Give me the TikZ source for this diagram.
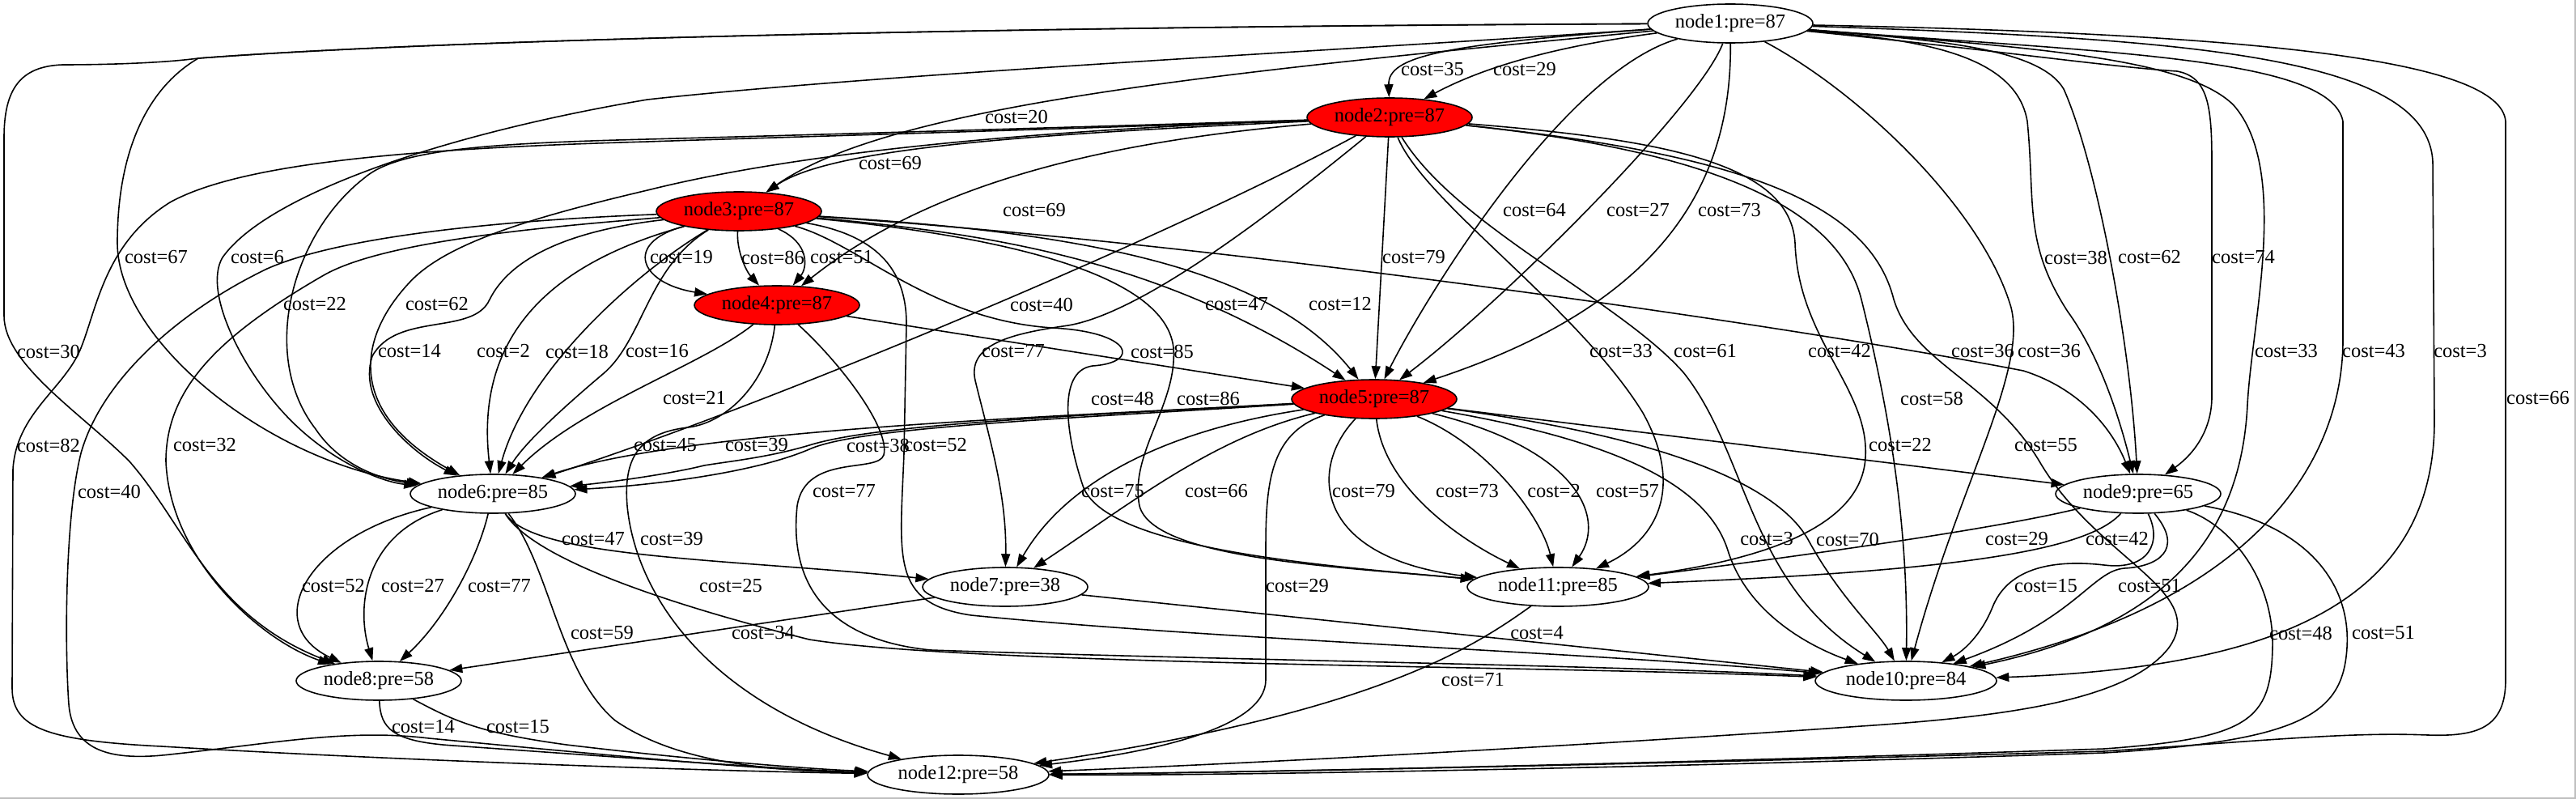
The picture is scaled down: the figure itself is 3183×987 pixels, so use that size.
\documentclass[tikz,border=0pt]{standalone}
\usepackage{fontspec}
\setmainfont{Liberation Serif}
\usetikzlibrary{arrows.meta,shapes.geometric}
\begin{document}
\begin{tikzpicture}[x=1pt,y=-1pt,
  nd/.style={ellipse,draw,line width=1.6pt,minimum width=204pt,minimum height=48pt,inner sep=0pt,font=\fontsize{24.5}{28}\selectfont},
  wide/.style={minimum width=224pt},
  hot/.style={fill=red},
  e/.style={draw,line width=1.6pt,-{Triangle[length=16pt,width=11pt]}},
  lab/.style={font=\fontsize{24.5}{28}\selectfont,inner sep=0pt}]
\useasboundingbox (0,0) rectangle (3183,987);
\draw[gray!50,line width=1.5pt] (0,986) -- (3182,986) -- (3182,0);

\node[nd] (n1) at (2138,29) {node1:pre=87};
\node[nd,hot] (n2) at (1717,145) {node2:pre=87};
\node[nd,hot] (n3) at (913,261) {node3:pre=87};
\node[nd,hot] (n4) at (960,377) {node4:pre=87};
\node[nd,hot] (n5) at (1698,493) {node5:pre=87};
\node[nd] (n6) at (609,610) {node6:pre=85};
\node[nd] (n7) at (1242,725) {node7:pre=38};
\node[nd] (n8) at (468,841) {node8:pre=58};
\node[nd] (n9) at (2642,610) {node9:pre=65};
\node[nd,wide] (n10) at (2355,841) {node10:pre=84};
\node[nd,wide] (n11) at (1925,725) {node11:pre=85};
\node[nd,wide] (n12) at (1184,957) {node12:pre=58};

% node1
\draw[e] (n1) .. controls (1780,55) and (1715,70) .. (n2) node[lab] at (1770,86) {cost=35};
\draw[e] (n1) .. controls (1900,60) and (1820,90) .. (n2) node[lab] at (1884,86) {cost=29};
\draw[e] (n1) .. controls (1500,90) and (1100,130) .. (n3) node[lab] at (1256,144) {cost=20};
\draw[e] (n1) .. controls (1400,32) and (600,45) .. (245,72) .. controls (180,110) and (145,190) .. (145,300) .. controls (145,420) and (330,570) .. (n6) node[lab] at (193,318) {cost=67};
\draw[e] (n1) .. controls (1400,32) and (600,45) .. (245,72) .. controls (200,78) and (130,80) .. (77,80) .. controls (25,82) and (5,110) .. (5,170) -- (5,390) .. controls (5,450) and (100,510) .. (160,570) .. controls (230,650) and (260,760) .. (n8) node[lab] at (60,434) {cost=30};
\draw[e] (n1) .. controls (1700,60) and (1100,90) .. (800,123) .. controls (550,165) and (330,240) .. (275,318) .. controls (250,360) and (300,460) .. (360,520) .. controls (410,570) and (470,595) .. (n6) node[lab] at (318,318) {cost=6};
\draw[e] (n1) .. controls (1930,90) and (1760,370) .. (n5) node[lab] at (1896,260) {cost=64};
\draw[e] (n1) .. controls (2100,130) and (1860,370) .. (n5) node[lab] at (2024,260) {cost=27};
\draw[e] (n1) .. controls (2140,240) and (2040,380) .. (n5) node[lab] at (2137,260) {cost=73};
\draw[e] (n1) .. controls (2350,48) and (2490,60) .. (2505,150) .. controls (2515,250) and (2500,300) .. (2555,385) .. controls (2595,440) and (2620,520) .. (n9) node[lab] at (2565,318) {cost=38};
\draw[e] (n1) .. controls (2400,50) and (2520,60) .. (2550,110) .. controls (2590,200) and (2632,420) .. (n9) node[lab] at (2656,318) {cost=62};
\draw[e] (n1) .. controls (2450,60) and (2600,82) .. (2690,88) .. controls (2728,95) and (2733,130) .. (2733,200) -- (2733,490) .. controls (2733,530) and (2712,560) .. (n9) node[lab] at (2772,318) {cost=74};
\draw[e] (n1) .. controls (2300,115) and (2450,260) .. (2485,380) .. controls (2505,460) and (2420,600) .. (n10) node[lab] at (2532,434) {cost=36};
\draw[e] (n1) .. controls (2500,58) and (2700,70) .. (2760,130) .. controls (2830,210) and (2782,400) .. (2777,500) .. controls (2770,640) and (2700,770) .. (n10) node[lab] at (2825,434) {cost=33};
\draw[e] (n1) .. controls (2600,65) and (2880,70) .. (2895,150) -- (2895,420) .. controls (2895,560) and (2800,740) .. (n10) node[lab] at (2933,434) {cost=43};
\draw[e] (n1) .. controls (2700,48) and (3000,68) .. (3006,200) -- (3008,520) .. controls (3008,750) and (2800,825) .. (n10) node[lab] at (3040,434) {cost=3};
\draw[e] (n1) .. controls (2800,42) and (3090,75) .. (3096,150) -- (3096,840) .. controls (3096,900) and (3060,910) .. (3000,908) .. controls (2900,904) and (2800,915) .. (2600,928) .. controls (2000,945) and (1500,955) .. (n12) node[lab] at (3136,492) {cost=66};

% node2
\draw[e] (n2) .. controls (1300,165) and (1030,180) .. (n3) node[lab] at (1100,202) {cost=69};
\draw[e] (n2) .. controls (1300,180) and (1120,250) .. (n4) node[lab] at (1278,260) {cost=69};
\draw[e] (n2) .. controls (1300,158) and (950,168) .. (800,172) .. controls (600,177) and (490,185) .. (450,220) .. controls (360,290) and (320,440) .. (390,530) .. controls (420,575) and (470,592) .. (n6) node[lab] at (389,376) {cost=22};
\draw[e] (n2) .. controls (1300,160) and (1000,185) .. (800,235) .. controls (660,268) and (550,300) .. (505,350) .. controls (440,420) and (430,510) .. (n6) node[lab] at (540,376) {cost=62};
\draw[e] (n2) .. controls (1450,290) and (950,500) .. (n6) node[lab] at (1287,376) {cost=40};
\draw[e] (n2) .. controls (1300,160) and (950,170) .. (800,175) .. controls (520,183) and (300,200) .. (210,250) .. controls (130,300) and (120,380) .. (100,430) .. controls (80,480) and (20,510) .. (16,580) -- (15,850) .. controls (15,900) and (60,915) .. (200,922) .. controls (500,940) and (900,953) .. (n12) node[lab] at (60,550) {cost=82};
\draw[e] (n2) -- (n5) node[lab] at (1747,318) {cost=79};
\draw[e] (n2) .. controls (1600,240) and (1420,385) .. (1320,402) .. controls (1250,412) and (1195,425) .. (1205,470) .. controls (1222,540) and (1244,610) .. (n7) node[lab] at (1252,434) {cost=77};
\draw[e] (n2) .. controls (1760,250) and (1950,380) .. (2030,510) .. controls (2080,600) and (2050,665) .. (n11) node[lab] at (2003,434) {cost=33};
\draw[e] (n2) .. controls (1800,280) and (2000,370) .. (2080,460) .. controls (2160,560) and (2160,720) .. (n10) node[lab] at (2107,434) {cost=61};
\draw[e] (n2) .. controls (2050,172) and (2212,200) .. (2218,300) .. controls (2222,420) and (2310,480) .. (2305,565) .. controls (2300,660) and (2150,695) .. (n11) node[lab] at (2273,434) {cost=42};
\draw[e] (n2) .. controls (2100,185) and (2270,250) .. (2300,370) .. controls (2335,510) and (2358,650) .. (n10) node[lab] at (2387,492) {cost=58};
\draw[e] (n2) .. controls (2150,190) and (2310,250) .. (2340,370) .. controls (2365,450) and (2460,470) .. (2520,570) .. controls (2590,690) and (2730,730) .. (2680,800) .. controls (2630,865) and (2480,885) .. (2300,897) .. controls (1900,925) and (1500,945) .. (n12) node[lab] at (2528,550) {cost=55};

% node3
\draw[e] (n3) .. controls (770,300) and (790,350) .. (n4) node[lab] at (842,318) {cost=19};
\draw[e] (n3) .. controls (910,310) and (922,335) .. (n4) node[lab] at (955,318) {cost=86};
\draw[e] (n3) .. controls (1000,300) and (998,330) .. (n4) node[lab] at (1040,318) {cost=51};
\draw[e] (n3) .. controls (700,285) and (630,320) .. (605,370) .. controls (585,415) and (490,385) .. (460,440) .. controls (440,500) and (510,560) .. (n6) node[lab] at (506,434) {cost=14};
\draw[e] (n3) .. controls (700,320) and (585,400) .. (n6) node[lab] at (622,434) {cost=2};
\draw[e] (n3) .. controls (780,340) and (650,460) .. (n6) node[lab] at (713,434) {cost=18};
\draw[e] (n3) .. controls (800,330) and (795,420) .. (745,462) .. controls (700,500) and (650,545) .. (n6) node[lab] at (812,434) {cost=16};
\draw[e] (n3) .. controls (650,282) and (470,300) .. (400,340) .. controls (270,415) and (205,480) .. (205,570) .. controls (210,690) and (320,790) .. (n8) node[lab] at (253,550) {cost=32};
\draw[e] (n3) .. controls (620,272) and (420,292) .. (330,332) .. controls (220,385) and (125,470) .. (100,560) .. controls (80,640) and (80,800) .. (85,870) .. controls (90,930) and (140,940) .. (210,932) .. controls (340,918) and (430,900) .. (530,912) .. controls (720,930) and (950,952) .. (n12) node[lab] at (135,607) {cost=40};
\draw[e] (n3) .. controls (1250,290) and (1450,330) .. (n5) node[lab] at (1528,376) {cost=47};
\draw[e] (n3) .. controls (1300,285) and (1560,320) .. (n5) node[lab] at (1656,376) {cost=12};
\draw[e] (n3) .. controls (1500,300) and (2200,400) .. (2500,458) .. controls (2570,480) and (2610,530) .. (n9) node[lab] at (2450,434) {cost=36};
\draw[e] (n3) .. controls (1200,288) and (1440,330) .. (1450,430) .. controls (1455,500) and (1395,560) .. (1408,625) .. controls (1425,690) and (1650,700) .. (n11) node[lab] at (1493,492) {cost=86};
\draw[e] (n3) .. controls (1060,300) and (1150,395) .. (1300,405) .. controls (1400,410) and (1410,448) .. (1350,452) .. controls (1305,458) and (1318,540) .. (1338,600) .. controls (1365,680) and (1650,700) .. (n11) node[lab] at (1387,492) {cost=48};
\draw[e] (n3) .. controls (1080,290) and (1120,330) .. (1120,400) -- (1117,560) .. controls (1112,690) and (1100,745) .. (1200,760) .. controls (1500,790) and (1950,805) .. (n10) node[lab] at (1156,550) {cost=52};

% node4
\draw[e] (n4) .. controls (870,450) and (720,500) .. (n6) node[lab] at (858,492) {cost=21};
\draw[e] (n4) -- (n5) node[lab] at (1436,434) {cost=85};
\draw[e] (n4) .. controls (1040,450) and (1100,530) .. (1092,562) .. controls (1085,585) and (995,560) .. (985,625) .. controls (975,720) and (1020,790) .. (1150,803) .. controls (1500,815) and (2000,822) .. (n10) node[lab] at (1043,607) {cost=77};
\draw[e] (n4) .. controls (950,470) and (900,522) .. (850,528) .. controls (790,535) and (770,565) .. (775,625) .. controls (785,730) and (870,870) .. (n12) node[lab] at (830,666) {cost=39};

% node5
\draw[e] (n5) .. controls (1300,515) and (850,530) .. (n6) node[lab] at (822,550) {cost=45};
\draw[e] (n5) .. controls (1300,515) and (1080,525) .. (1000,550) .. controls (950,565) and (900,570) .. (870,575) .. controls (830,585) and (760,595) .. (n6) node[lab] at (935,550) {cost=39};
\draw[e] (n5) .. controls (1300,518) and (1060,528) .. (1000,555) .. controls (930,585) and (800,600) .. (n6) node[lab] at (1085,550) {cost=38};
\draw[e] (n5) .. controls (1450,530) and (1320,590) .. (n7) node[lab] at (1375,607) {cost=75};
\draw[e] (n5) .. controls (1500,540) and (1400,620) .. (n7) node[lab] at (1503,607) {cost=66};
\draw[e] (n5) .. controls (1615,580) and (1625,690) .. (n11) node[lab] at (1685,607) {cost=79};
\draw[e] (n5) .. controls (1710,600) and (1800,665) .. (n11) node[lab] at (1813,607) {cost=73};
\draw[e] (n5) .. controls (1840,550) and (1905,640) .. (n11) node[lab] at (1920,607) {cost=2};
\draw[e] (n5) .. controls (1950,555) and (1985,640) .. (n11) node[lab] at (2011,607) {cost=57};
\draw[e] (n5) .. controls (2000,545) and (2110,600) .. (2135,680) .. controls (2160,760) and (2240,800) .. (n10) node[lab] at (2183,666) {cost=3};
\draw[e] (n5) .. controls (2060,540) and (2200,600) .. (2236,670) .. controls (2275,740) and (2320,780) .. (n10) node[lab] at (2283,666) {cost=70};
\draw[e] (n5) -- (n9) node[lab] at (2348,550) {cost=22};
\draw[e] (n5) .. controls (1568,535) and (1564,600) .. (1564,680) -- (1564,840) .. controls (1564,900) and (1420,930) .. (n12) node[lab] at (1603,724) {cost=29};

% node6
\draw[e] (n6) .. controls (660,690) and (900,690) .. (n7) node[lab] at (733,666) {cost=47};
\draw[e] (n6) .. controls (665,700) and (880,760) .. (1000,790) .. controls (1200,822) and (1900,822) .. (n10) node[lab] at (903,724) {cost=25};
\draw[e] (n6) .. controls (380,660) and (320,770) .. (n8) node[lab] at (412,724) {cost=52};
\draw[e] (n6) .. controls (450,660) and (440,750) .. (n8) node[lab] at (510,724) {cost=27};
\draw[e] (n6) .. controls (590,690) and (550,765) .. (n8) node[lab] at (617,724) {cost=77};
\draw[e] (n6) .. controls (680,700) and (690,830) .. (760,890) .. controls (840,945) and (960,952) .. (n12) node[lab] at (744,782) {cost=59};

% node7, node8, node11
\draw[e] (n7) -- (n8) node[lab] at (943,782) {cost=34};
\draw[e] (n7) -- (n10) node[lab] at (1899,782) {cost=4};
\draw[e] (n8) .. controls (470,900) and (485,916) .. (560,921) .. controls (800,938) and (1000,952) .. (n12) node[lab] at (523,898) {cost=14};
\draw[e] (n8) .. controls (560,890) and (590,905) .. (700,920) .. controls (850,938) and (1000,950) .. (n12) node[lab] at (640,898) {cost=15};
\draw[e] (n11) .. controls (1820,800) and (1700,880) .. (n12) node[lab] at (1820,840) {cost=71};

% node9
\draw[e] (n9) .. controls (2460,655) and (2200,690) .. (n11) node[lab] at (2492,666) {cost=29};
\draw[e] (n9) .. controls (2580,680) and (2420,705) .. (n11) node[lab] at (2616,666) {cost=42};
\draw[e] (n9) .. controls (2672,670) and (2655,705) .. (2600,698) .. controls (2530,690) and (2480,705) .. (2462,750) .. controls (2448,785) and (2425,805) .. (n10) node[lab] at (2528,724) {cost=15};
\draw[e] (n9) .. controls (2700,680) and (2665,700) .. (2625,702) .. controls (2585,705) and (2565,765) .. (n10) node[lab] at (2656,724) {cost=51};
\draw[e] (n9) .. controls (2760,650) and (2810,720) .. (2808,800) .. controls (2806,890) and (2780,912) .. (2600,925) .. controls (2000,945) and (1500,955) .. (n12) node[lab] at (2843,782) {cost=48};
\draw[e] (n9) .. controls (2850,648) and (2905,720) .. (2900,800) .. controls (2895,880) and (2850,915) .. (2600,930) .. controls (2000,950) and (1500,958) .. (n12) node[lab] at (2945,782) {cost=51};
\end{tikzpicture}
\end{document}
